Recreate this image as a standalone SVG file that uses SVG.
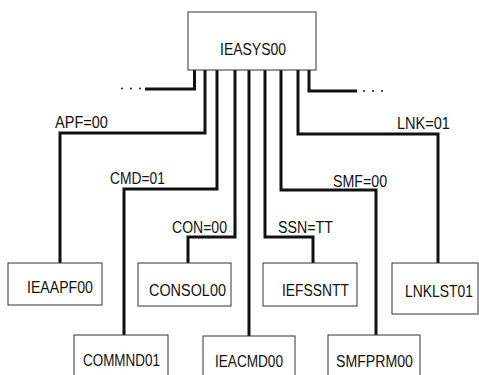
<svg xmlns="http://www.w3.org/2000/svg" width="479" height="375" viewBox="0 0 479 375">
<style>
.box{fill:#fff;stroke:#333;stroke-width:1}
.t{font-family:"Liberation Sans",Arial,sans-serif;font-size:17px;fill:#111}
.c{fill:none;stroke:#111;stroke-width:3;stroke-linejoin:miter}
.d{fill:#222}
</style>
<rect width="479" height="375" fill="#fff"/>
<g id="connectors">
<path class="c" d="M194.5,70 V89 H145"/>
<path class="c" d="M205,70 V133 H60 V263"/>
<path class="c" d="M217,70 V189 H124 V335"/>
<path class="c" d="M235,70 V237 H188 V263"/>
<path class="c" d="M249,70 V336"/>
<path class="c" d="M265,70 V237 H313 V263"/>
<path class="c" d="M281,70 V190 H376 V335"/>
<path class="c" d="M298,70 V134 H438 V263"/>
<path class="c" d="M309,70 V91 H357"/>
<circle class="d" cx="122" cy="88.5" r="1"/>
<circle class="d" cx="131" cy="88.5" r="1"/>
<circle class="d" cx="140" cy="88.5" r="1"/>
<circle class="d" cx="364" cy="91" r="1"/>
<circle class="d" cx="373" cy="91" r="1"/>
<circle class="d" cx="382" cy="91" r="1"/>
<text class="t" transform="translate(55,128) scale(0.856,1)">APF=00</text>
<text class="t" transform="translate(110,184) scale(0.815,1)">CMD=01</text>
<text class="t" transform="translate(172,233) scale(0.826,1)">CON=00</text>
<text class="t" transform="translate(278,233) scale(0.837,1)">SSN=TT</text>
<text class="t" transform="translate(333,187) scale(0.835,1)">SMF=00</text>
<text class="t" transform="translate(397,129) scale(0.856,1)">LNK=01</text>
</g>
<g id="IEASYS00"><rect class="box" x="188" y="12" width="128" height="58"/><text class="t" transform="translate(220,55) scale(0.822,1)">IEASYS00</text></g>
<g id="IEAAPF00"><rect class="box" x="8" y="263" width="94" height="42"/><text class="t" transform="translate(27,293) scale(0.831,1)">IEAAPF00</text></g>
<g id="CONSOL00"><rect class="box" x="138" y="263" width="93" height="43"/><text class="t" transform="translate(149,296) scale(0.849,1)">CONSOL00</text></g>
<g id="IEFSSNTT"><rect class="box" x="263" y="263" width="94" height="43"/><text class="t" transform="translate(282,296) scale(0.815,1)">IEFSSNTT</text></g>
<g id="LNKLST01"><rect class="box" x="392" y="263" width="86" height="51"/><text class="t" transform="translate(405,297) scale(0.818,1)">LNKLST01</text></g>
<g id="COMMND01"><rect class="box" x="74" y="335" width="94" height="50"/><text class="t" transform="translate(83,366) scale(0.791,1)">COMMND01</text></g>
<g id="IEACMD00"><rect class="box" x="203" y="336" width="92" height="50"/><text class="t" transform="translate(215,367) scale(0.8,1)">IEACMD00</text></g>
<g id="SMFPRM00"><rect class="box" x="328" y="335" width="92" height="50"/><text class="t" transform="translate(336,367) scale(0.832,1)">SMFPRM00</text></g>
</svg>
